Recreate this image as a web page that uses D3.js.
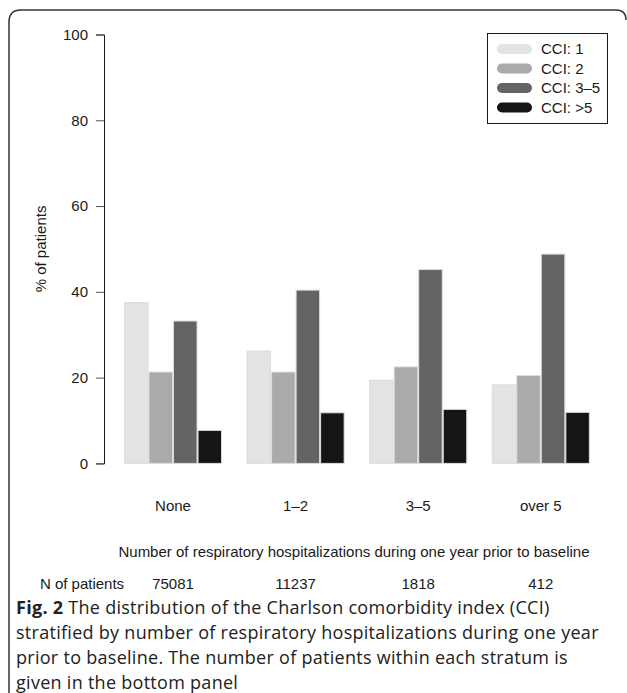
<!DOCTYPE html>
<html>
<head>
<meta charset="utf-8">
<script src="https://cdn.jsdelivr.net/npm/d3@7"></script>
<style>
  body { margin: 0; background: #fff; }
  svg { display: block; }
  .axis text, .lbl { font-family: "Liberation Sans", Arial, sans-serif; font-size: 15px; fill: #1a1a1a; }
  .caption { font-family: "Open Sans", sans-serif; font-size: 18px; letter-spacing: 0.28px; fill: #222; }
</style>
</head>
<body>
<div id="chart"></div>
<script>
// data
const groups = ['None', '1\u20132', '3\u20135', 'over 5'];
const series = ['CCI: 1', 'CCI: 2', 'CCI: 3\u20135', 'CCI: >5'];
const cci1 = [37.5, 26.2, 19.4, 18.3];
const cci2 = [21.3, 21.3, 22.5, 20.5];
const cci35 = [33.2, 40.4, 45.2, 48.8];
const cci5 = [7.7, 11.8, 12.6, 11.9];
const nPatients = ['75081', '11237', '1818', '412'];
const yTicks = [0, 20, 40, 60, 80, 100];
const captionLines = [
  'The distribution of the Charlson comorbidity index (CCI)',
  'stratified by number of respiratory hospitalizations during one year',
  'prior to baseline. The number of patients within each stratum is',
  'given in the bottom panel'
];

const values = [cci1, cci2, cci35, cci5];
const colors = ['#e3e3e3', '#aaaaaa', '#646464', '#151515'];

const width = 627, height = 693;

const svg = d3.select('#chart').append('svg')
  .attr('width', width)
  .attr('height', height);

// frame round the figure
svg.append('path')
  .attr('d', 'M9,693 L9,22 Q9,10 21,10 L616,10 Q626,10 626,20')
  .attr('fill', 'none')
  .attr('stroke', '#333')
  .attr('stroke-width', 1.5);

const x0 = d3.scaleBand()
  .domain(groups)
  .range([111.7, 602.1])
  .paddingInner(0.2)
  .paddingOuter(0.1);

const x1 = d3.scaleBand()
  .domain(series)
  .range([0, x0.bandwidth()]);

const y = d3.scaleLinear()
  .domain([0, 100])
  .range([463.4, 34.5]);

// bars
const g = svg.append('g');
groups.forEach((grp, gi) => {
  g.selectAll(null)
    .data(series)
    .enter()
    .append('rect')
    .attr('x', (s) => x0(grp) + x1(s) + 0.5)
    .attr('width', x1.bandwidth() - 1)
    .attr('y', (s, si) => y(values[si][gi]))
    .attr('height', (s, si) => y(0) - y(values[si][gi]))
    .attr('fill', (s, si) => colors[si])
    .attr('stroke', '#dcdcdc')
    .attr('stroke-width', 1);
});

// y axis
const yAxis = svg.append('g')
  .attr('class', 'axis')
  .attr('transform', 'translate(104,0)')
  .call(d3.axisLeft(y).tickValues(yTicks).tickSize(8).tickPadding(8));
yAxis.select('.domain').attr('stroke', '#1a1a1a');
yAxis.selectAll('.tick line').attr('stroke', '#555');
yAxis.selectAll('.tick text').attr('font-size', 15).attr('font-family', '"Liberation Sans", Arial, sans-serif');

svg.append('text')
  .attr('class', 'lbl')
  .attr('transform', `translate(46,${(y(0) + y(100)) / 2}) rotate(-90)`)
  .attr('text-anchor', 'middle')
  .text('% of patients');

// category labels
svg.selectAll(null)
  .data(groups)
  .enter()
  .append('text')
  .attr('class', 'lbl')
  .attr('x', (d) => x0(d) + x0.bandwidth() / 2)
  .attr('y', 511)
  .attr('text-anchor', 'middle')
  .text((d) => d);

svg.append('text')
  .attr('class', 'lbl')
  .attr('x', 354)
  .attr('y', 557)
  .attr('text-anchor', 'middle')
  .text('Number of respiratory hospitalizations during one year prior to baseline');

// bottom panel
svg.append('text')
  .attr('class', 'lbl')
  .attr('x', 82)
  .attr('y', 589)
  .attr('text-anchor', 'middle')
  .text('N of patients');

svg.selectAll(null)
  .data(nPatients)
  .enter()
  .append('text')
  .attr('class', 'lbl')
  .attr('x', (d, i) => x0(groups[i]) + x0.bandwidth() / 2)
  .attr('y', 589)
  .attr('text-anchor', 'middle')
  .text((d) => d);

// legend
const legend = svg.append('g');
legend.append('rect')
  .attr('x', 487.5)
  .attr('y', 33.5)
  .attr('width', 120)
  .attr('height', 90)
  .attr('fill', '#fff')
  .attr('stroke', '#1a1a1a');

const item = legend.selectAll('g.item')
  .data(series)
  .enter()
  .append('g')
  .attr('class', 'item')
  .attr('transform', (d, i) => `translate(0,${49 + i * 19.5})`);

item.append('line')
  .attr('x1', 502)
  .attr('x2', 527)
  .attr('stroke', (d, i) => colors[i])
  .attr('stroke-width', 10)
  .attr('stroke-linecap', 'round');

item.append('text')
  .attr('class', 'lbl')
  .attr('x', 541)
  .attr('dy', '0.35em')
  .text((d) => d);

// caption
const cap = svg.append('g');
captionLines.forEach((line, i) => {
  const t = cap.append('text')
    .attr('class', 'caption')
    .attr('x', 16)
    .attr('y', 614 + i * 25);
  if (i === 0) {
    t.append('tspan').attr('font-weight', 'bold').text('Fig. 2');
    t.append('tspan').text(' ' + line);
  } else {
    t.text(line);
  }
});
</script>
</body>
</html>
